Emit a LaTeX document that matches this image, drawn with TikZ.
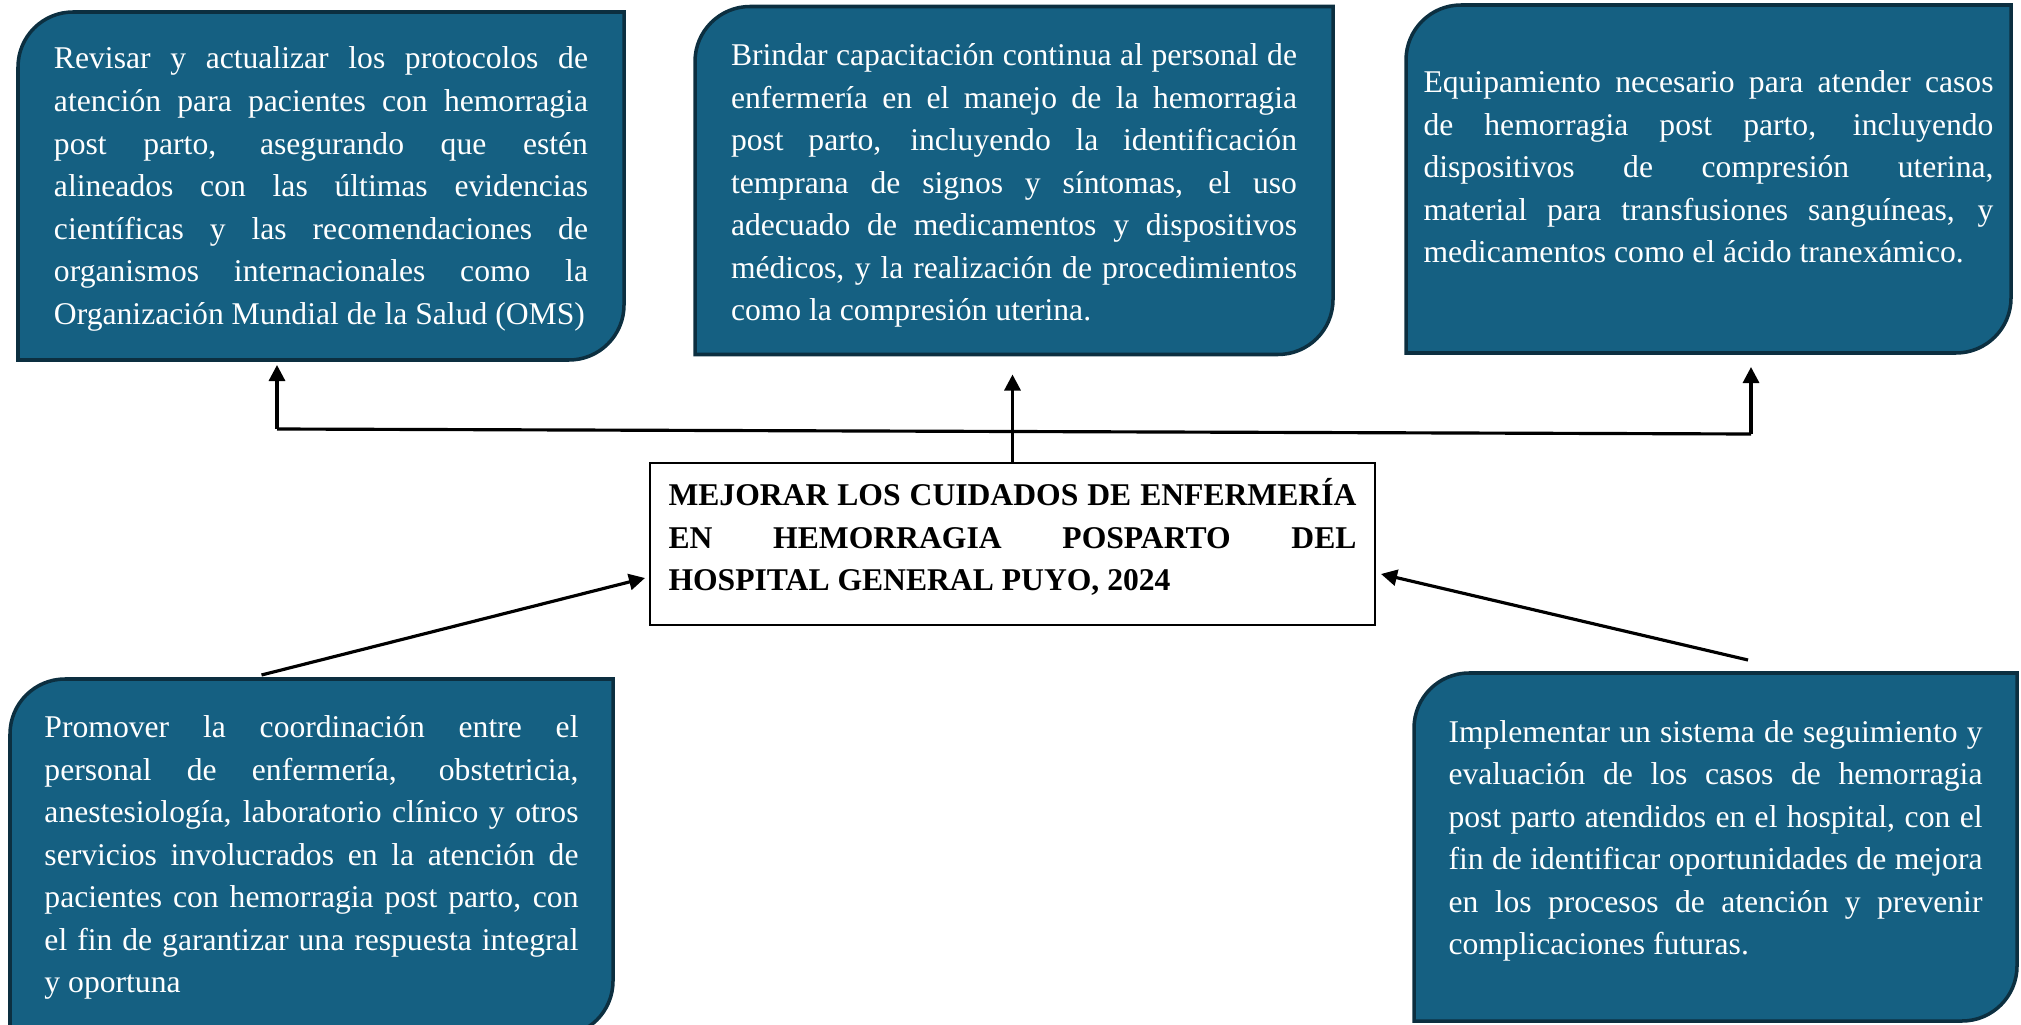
\documentclass[tikz,border=0pt]{standalone}
\usepackage{fontspec}
\setmainfont{Liberation Serif}
\usetikzlibrary{arrows.meta,backgrounds}

\definecolor{leafblue}{HTML}{156082}
\definecolor{leafedge}{HTML}{0C2F40}
\hyphenpenalty=10000
\tolerance=10000

% box with two rounded corners (top left, bottom right)
\newcommand{\leafr}{0.55cm}
\newcommand{\leafshape}[1]{%
  \path[leafbox] (#1.south west) -- ([yshift=-\leafr]#1.north west)
    arc[start angle=180, end angle=90, radius=\leafr] -- (#1.north east)
    -- ([yshift=\leafr]#1.south east)
    arc[start angle=0, end angle=-90, radius=\leafr] -- cycle;}

\begin{document}
\begin{tikzpicture}[
        leaf/.style={text=white, inner sep=0pt, outer sep=0pt, align=justify, font=\fontsize{9}{12.1}\selectfont, minimum width=6.05cm, minimum height=3.48cm}, % Box text
        leafbox/.style={fill=leafblue, draw=leafedge, line width=1pt}, % Box styling
        goal/.style={draw, line width=0.6pt, fill=white, inner sep=0pt, outer sep=0pt, align=justify, text width=6.88cm, minimum width=7.25cm, minimum height=1.62cm, font=\fontsize{9}{12.1}\selectfont\bfseries}, % Centre box
        link/.style={line width=0.9pt}, % Plain line
        arrow/.style={link, -{Triangle[length=1.6mm, width=1.6mm]}} % Arrow styling
        ]
        \useasboundingbox (0,0) rectangle (20.21,10.24);

        % Define nodes
        \node (goal) [goal] at (10.125,4.80) {MEJORAR LOS CUIDADOS DE ENFERMERÍA\linebreak EN HEMORRAGIA POSPARTO DEL\linebreak HOSPITAL GENERAL PUYO, 2024\par\kern1.4mm};

        \node (obj1) [leaf, text width=5.34cm, minimum width=6.06cm] at (3.21,8.38) {Revisar y actualizar los protocolos de\linebreak atención para pacientes con hemorragia\linebreak post parto, asegurando que estén\linebreak alineados con las últimas evidencias\linebreak científicas y las recomendaciones de\linebreak organismos internacionales como la\linebreak Organización Mundial de la Salud (OMS)\par\vspace*{-0.6mm}};
        \node (obj2) [leaf, text width=5.66cm, minimum width=6.38cm] at (10.14,8.435) {Brindar capacitación continua al personal de\linebreak enfermería en el manejo de la hemorragia\linebreak post parto, incluyendo la identificación\linebreak temprana de signos y síntomas, el uso\linebreak adecuado de medicamentos y dispositivos\linebreak médicos, y la realización de procedimientos\linebreak como la compresión uterina.\par\vspace*{-1mm}};
        \node (obj3) [leaf, text width=5.70cm] at (17.085,8.45) {Equipamiento necesario para atender casos\linebreak de hemorragia post parto, incluyendo\linebreak dispositivos de compresión uterina,\linebreak material para transfusiones sanguíneas, y\linebreak medicamentos como el ácido tranexámico.\par\vspace*{2.4mm}};
        \node (obj4) [leaf, text width=5.34cm, minimum width=6.03cm, minimum height=3.57cm] at (3.115,1.665) {Promover la coordinación entre el\linebreak personal de enfermería, obstetricia,\linebreak anestesiología, laboratorio clínico y otros\linebreak servicios involucrados en la atención de\linebreak pacientes con hemorragia post parto, con\linebreak el fin de garantizar una respuesta integral\linebreak y oportuna};
        \node (obj5) [leaf, text width=5.34cm, minimum width=6.03cm] at (17.155,1.77) {Implementar un sistema de seguimiento y\linebreak evaluación de los casos de hemorragia\linebreak post parto atendidos en el hospital, con el\linebreak fin de identificar oportunidades de mejora\linebreak en los procesos de atención y prevenir\linebreak complicaciones futuras.\par\vspace*{1.2mm}};

        \begin{scope}[on background layer]
            \foreach \n in {obj1,obj2,obj3,obj4,obj5} {\leafshape{\n}}
        \end{scope}

        % Draw arrows
        \coordinate (busL) at (2.77,5.95);
        \coordinate (busR) at (17.51,5.90);
        \draw[link] (busL) -- (busR);
        \draw[arrow, shorten >=0.5mm] (busL) -- (busL |- obj1.south);
        \draw[arrow, shorten >=2mm] (goal.north) -- (goal.north |- obj2.south);
        \draw[arrow, shorten >=1.4mm] (busR) -- (busR |- obj3.south);

        \draw[arrow] ([xshift=-5mm, yshift=0.4mm]obj4.north) -- ([xshift=-0.5mm, yshift=-3.4mm]goal.west);
        \draw[arrow] ([xshift=3.25mm, yshift=1.3mm]obj5.north) -- ([xshift=0.6mm, yshift=-3mm]goal.east);

    \end{tikzpicture}
\end{document}
